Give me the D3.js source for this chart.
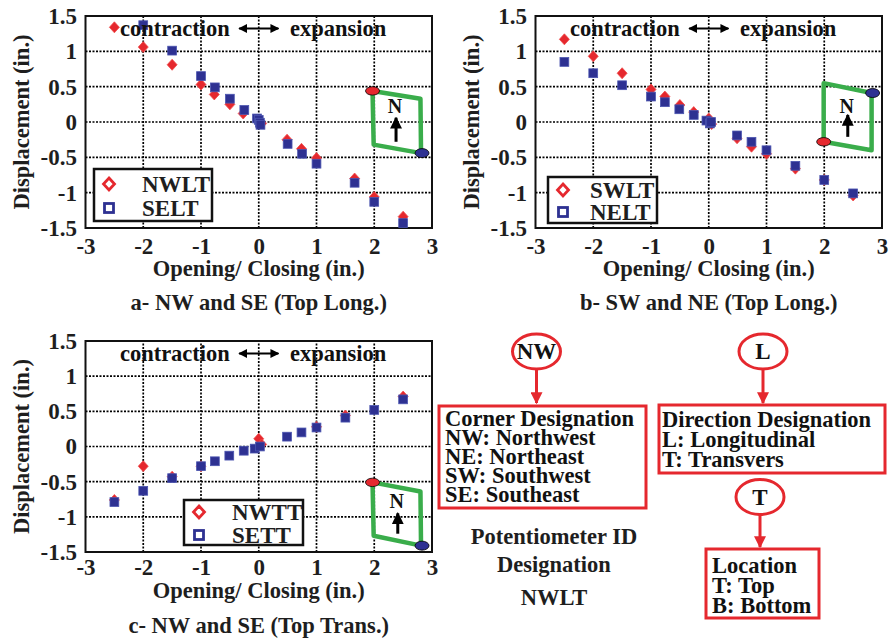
<!DOCTYPE html>
<html>
<head>
<meta charset="utf-8">
<script src="https://cdn.jsdelivr.net/npm/d3@7"></script>
<style>
  body { margin: 0; background: #fff; }
  svg { display: block; }
</style>
</head>
<body>
<div id="chart"></div>
<script>
// ---------------- data ----------------
var xTicks = [-3, -2, -1, 0, 1, 2, 3]
var yTicks = [-1.5, -1, -0.5, 0, 0.5, 1, 1.5]

// panel a
var nwlt = [[-2.5, 1.34], [-2, 1.06], [-1.5, 0.81], [-1, 0.53], [-0.77, 0.39], [-0.5, 0.25], [-0.27, 0.12],
            [0, 0.01], [0.05, -0.02], [0.49, -0.25], [0.74, -0.38], [1, -0.51], [1.66, -0.8], [2, -1.06], [2.5, -1.34]]
var selt = [[-2, 1.37], [-1.5, 1.01], [-1, 0.65], [-0.76, 0.49], [-0.5, 0.33], [-0.25, 0.17],
            [-0.03, 0.05], [0, 0.03], [0.02, -0.01], [0.03, -0.04], [0.5, -0.31], [0.75, -0.45], [1, -0.59], [1.66, -0.86], [2, -1.13], [2.5, -1.43]]
// panel b
var swlt = [[-2.5, 1.17], [-2, 0.93], [-1.5, 0.69], [-1, 0.46], [-0.76, 0.36], [-0.5, 0.24], [-0.26, 0.14],
            [0, 0.05], [0.05, -0.03], [0.49, -0.23], [0.74, -0.35], [1, -0.45], [1.5, -0.66], [2, -0.82], [2.5, -1.04]]
var nelt = [[-2.5, 0.85], [-2, 0.69], [-1.5, 0.52], [-1, 0.36], [-0.76, 0.28], [-0.51, 0.18], [-0.26, 0.1],
            [-0.04, 0.02], [0.02, -0.02], [0.04, 0.0], [0.49, -0.19], [0.74, -0.28], [1, -0.4], [1.5, -0.62], [2, -0.82], [2.5, -1.01]]
// panel c
var nwtt = [[-2.5, -0.76], [-2, -0.28], [-1.5, -0.43], [-1, -0.28], [0, 0.11], [0.05, 0.03], [1, 0.28], [1.5, 0.44], [2.5, 0.71]]
var sett = [[-2.5, -0.79], [-2, -0.63], [-1.5, -0.45], [-1, -0.28], [-0.76, -0.21], [-0.51, -0.13], [-0.26, -0.06],
            [-0.07, -0.03], [0.02, 0.0], [0.49, 0.14], [0.74, 0.2], [1, 0.27], [1.5, 0.41], [2, 0.52], [2.5, 0.67]]

var seriesNames = [['NWLT', 'SELT'], ['SWLT', 'NELT'], ['NWTT', 'SETT']]
var captions = ['a- NW and SE (Top Long.)', 'b- SW and NE (Top Long.)', 'c- NW and SE (Top Trans.)']

var cornerLines = ['Corner Designation', 'NW: Northwest', 'NE: Northeast', 'SW: Southwest', 'SE: Southeast']
var directionLines = ['Direction Designation', 'L: Longitudinal', 'T: Transvers']
var locationLines = ['Location', 'T: Top', 'B: Bottom']
var idLines = ['Potentiometer ID', 'Designation', 'NWLT']

// ---------------- drawing ----------------
var FONT = '"Liberation Serif", "Times New Roman", serif'
var RED = '#e5282e'
var BLUE = '#2e3192'
var GREEN = '#3aad4b'
var width = 894, height = 639

var svg = d3.select('#chart').append('svg')
    .attr('width', width)
    .attr('height', height)
    .style('font-family', FONT)
    .style('font-weight', 'bold')

// arrow heads
var defs = svg.append('defs')
defs.append('marker').attr('id', 'ahBlack').attr('viewBox', '0 0 10 10').attr('refX', 9).attr('refY', 5)
    .attr('markerWidth', 4).attr('markerHeight', 4).attr('orient', 'auto-start-reverse').attr('markerUnits', 'strokeWidth')
    .append('path').attr('d', 'M0,0L10,5L0,10z').attr('fill', '#000')
defs.append('marker').attr('id', 'ahRed').attr('viewBox', '0 0 10 10').attr('refX', 9).attr('refY', 5)
    .attr('markerWidth', 4.5).attr('markerHeight', 4).attr('orient', 'auto').attr('markerUnits', 'strokeWidth')
    .append('path').attr('d', 'M0,0L10,5L0,10z').attr('fill', RED)

var panels = [
    {x0: 85.5, x1: 432, y0: 228, y1: 16, tickPad: 9.5, xTitleY: 276, capY: 310, yTitleX: 29,
     red: nwlt, blue: selt, names: seriesNames[0], caption: captions[0],
     legend: {x: 94, y: 169, w: 118, h: 52, r1: 184, r2: 208, tx: 142},
     sketch: {pts: [[1.97, 0.44], [2.8, 0.33], [2.81, -0.44], [1.99, -0.32]], redAt: 0, blueAt: 2, n: [2.36, 0.13], arrow: [-0.28, 0.06]}},
    {x0: 535.5, x1: 882, y0: 228, y1: 16, tickPad: 9.5, xTitleY: 276, capY: 310, yTitleX: 479,
     red: swlt, blue: nelt, names: seriesNames[1], caption: captions[1],
     legend: {x: 548, y: 177, w: 109, h: 46, r1: 190, r2: 212, tx: 590},
     sketch: {pts: [[1.99, 0.55], [2.82, 0.41], [2.82, -0.4], [1.99, -0.28]], redAt: 3, blueAt: 1, n: [2.39, 0.13], arrow: [-0.21, 0.1]}},
    {x0: 85.5, x1: 432, y0: 552, y1: 341, tickPad: 6.5, xTitleY: 598, capY: 633, yTitleX: 29,
     red: nwtt, blue: sett, names: seriesNames[2], caption: captions[2],
     legend: {x: 184, y: 500, w: 119, h: 45, r1: 512, r2: 535, tx: 232},
     sketch: {pts: [[1.97, -0.51], [2.8, -0.64], [2.81, -1.41], [1.99, -1.27]], redAt: 0, blueAt: 2, n: [2.39, -0.88], arrow: [-1.24, -0.95]}}
]

panels.forEach(function(p) {
    var x = d3.scaleLinear().domain([-3, 3]).range([p.x0, p.x1])
    var y = d3.scaleLinear().domain([-1.5, 1.5]).range([p.y0, p.y1])
    var g = svg.append('g')

    // dotted grid
    g.selectAll('.gx').data(xTicks.slice(1, -1)).join('line')
        .attr('x1', d => x(d)).attr('x2', d => x(d)).attr('y1', p.y0).attr('y2', p.y1)
        .attr('stroke', '#000').attr('stroke-width', 1.7).attr('stroke-dasharray', '2,1.5')
    g.selectAll('.gy').data(yTicks.slice(1, -1)).join('line')
        .attr('y1', d => y(d)).attr('y2', d => y(d)).attr('x1', p.x0).attr('x2', p.x1)
        .attr('stroke', '#000').attr('stroke-width', 1.7).attr('stroke-dasharray', '2,1.5')

    // axes
    var xAxis = g.append('g').attr('transform', 'translate(0,' + p.y0 + ')')
        .call(d3.axisBottom(x).tickValues(xTicks).tickSize(0).tickPadding(p.tickPad).tickFormat(d => String(d)))
    var yAxis = g.append('g').attr('transform', 'translate(' + p.x0 + ',0)')
        .call(d3.axisLeft(y).tickValues(yTicks).tickSize(0).tickPadding(8.5).tickFormat(d => String(d)))
    ;[xAxis, yAxis].forEach(function(a) {
        a.select('.domain').remove()
        a.selectAll('text').style('font-family', FONT).style('font-weight', 'bold')
            .style('font-size', '23px').attr('fill', '#1e1e1e')
    })

    // frame
    g.append('rect').attr('x', p.x0).attr('y', p.y1).attr('width', p.x1 - p.x0).attr('height', p.y0 - p.y1)
        .attr('fill', 'none').attr('stroke', '#111').attr('stroke-width', 2)

    // titles
    g.append('text').attr('x', (p.x0 + p.x1) / 2).attr('y', p.xTitleY).attr('text-anchor', 'middle')
        .style('font-size', '22.5px').attr('fill', '#1e1e1e').text('Opening/ Closing (in.)')
    g.append('text').attr('transform', 'translate(' + p.yTitleX + ',' + ((p.y0 + p.y1) / 2) + ') rotate(-90)')
        .attr('text-anchor', 'middle').style('font-size', '22.5px').attr('fill', '#1e1e1e').text('Displacement (in.)')
    g.append('text').attr('x', (p.x0 + p.x1) / 2).attr('y', p.capY).attr('text-anchor', 'middle')
        .style('font-size', '22.5px').attr('fill', '#1e1e1e').text(p.caption)

    // points
    g.selectAll('.red').data(p.red).join('path')
        .attr('transform', d => 'translate(' + x(d[0]) + ',' + y(d[1]) + ')')
        .attr('d', 'M0,-5.5L5,0L0,5.5L-5,0Z')
        .attr('fill', RED).attr('stroke', '#f04a4a').attr('stroke-width', 0.8)
    g.selectAll('.blue').data(p.blue).join('rect')
        .attr('x', d => x(d[0]) - 4.4).attr('y', d => y(d[1]) - 4.4)
        .attr('width', 8.8).attr('height', 8.8)
        .attr('fill', BLUE).attr('stroke', '#4b55b0').attr('stroke-width', 0.8)

    // contraction <-> expansion
    var ty = y(1.5) + 19.5
    g.append('text').attr('x', x(-0.5)).attr('y', ty).attr('text-anchor', 'end')
        .style('font-size', '22.5px').attr('fill', '#111').text('contraction')
    g.append('text').attr('x', x(0.54)).attr('y', ty).attr('text-anchor', 'start')
        .style('font-size', '22.5px').attr('fill', '#111').text('expansion')
    g.append('line').attr('x1', x(-0.34)).attr('x2', x(0.34)).attr('y1', ty - 7).attr('y2', ty - 7)
        .attr('stroke', '#000').attr('stroke-width', 2.2)
        .attr('marker-start', 'url(#ahBlack)').attr('marker-end', 'url(#ahBlack)')

    // bridge sketch
    var s = p.sketch
    g.append('path').attr('d', 'M' + s.pts.map(d => x(d[0]) + ',' + y(d[1])).join('L') + 'Z')
        .attr('fill', 'none').attr('stroke', GREEN).attr('stroke-width', 4.5).attr('stroke-linejoin', 'round')
    g.append('ellipse').attr('cx', x(s.pts[s.redAt][0])).attr('cy', y(s.pts[s.redAt][1]))
        .attr('rx', 7).attr('ry', 4.2).attr('fill', RED).attr('stroke', '#000').attr('stroke-width', 0.8)
    g.append('ellipse').attr('cx', x(s.pts[s.blueAt][0]) + 1).attr('cy', y(s.pts[s.blueAt][1]))
        .attr('rx', 7).attr('ry', 4.5).attr('fill', BLUE).attr('stroke', '#000').attr('stroke-width', 0.8)
    g.append('text').attr('x', x(s.n[0])).attr('y', y(s.n[1])).attr('text-anchor', 'middle')
        .style('font-size', '20px').attr('fill', '#111').text('N')
    g.append('line').attr('x1', x(s.n[0]) + 1).attr('x2', x(s.n[0]) + 1)
        .attr('y1', y(s.arrow[0])).attr('y2', y(s.arrow[1]))
        .attr('stroke', '#000').attr('stroke-width', 3).attr('marker-end', 'url(#ahBlack)')

    // legend
    var L = p.legend
    g.append('rect').attr('x', L.x).attr('y', L.y).attr('width', L.w).attr('height', L.h)
        .attr('fill', '#fff').attr('stroke', '#111').attr('stroke-width', 2.5)
    g.append('path').attr('transform', 'translate(' + (L.x + 15) + ',' + L.r1 + ')')
        .attr('d', 'M0,-6L5.5,0L0,6L-5.5,0Z').attr('fill', 'none').attr('stroke', RED).attr('stroke-width', 2.8)
    g.append('rect').attr('x', L.x + 15 - 4.5).attr('y', L.r2 - 4.5).attr('width', 9).attr('height', 9)
        .attr('fill', 'none').attr('stroke', BLUE).attr('stroke-width', 2.8)
    g.append('text').attr('x', L.tx).attr('y', L.r1 + 8).style('font-size', '23px').attr('fill', '#1e1e1e').text(p.names[0])
    g.append('text').attr('x', L.tx).attr('y', L.r2 + 8).style('font-size', '23px').attr('fill', '#1e1e1e').text(p.names[1])
})

// ---------------- designation diagram ----------------
var dg = svg.append('g').style('font-size', '22.5px').attr('fill', '#111')

function bubble(cx, cy, label) {
    dg.append('ellipse').attr('cx', cx).attr('cy', cy).attr('rx', 24).attr('ry', 17.5)
        .attr('fill', '#fff').attr('stroke', RED).attr('stroke-width', 3)
    dg.append('text').attr('x', cx).attr('y', cy + 7.5).attr('text-anchor', 'middle')
        .style('font-size', '23px').text(label)
}
function redArrow(x0, y0, y1) {
    dg.append('line').attr('x1', x0).attr('x2', x0).attr('y1', y0).attr('y2', y1 - 2)
        .attr('stroke', RED).attr('stroke-width', 3).attr('marker-end', 'url(#ahRed)')
}
function box(x0, y0, w, h, lines, tx, firstBase, step) {
    dg.append('rect').attr('x', x0).attr('y', y0).attr('width', w).attr('height', h)
        .attr('fill', 'none').attr('stroke', RED).attr('stroke-width', 3)
    dg.selectAll(null).data(lines).join('text')
        .attr('x', tx).attr('y', (d, i) => firstBase + i * step).text(d => d)
}

bubble(536.5, 351.5, 'NW')
redArrow(536.5, 369, 405)
box(439, 406, 207, 102, cornerLines, 445, 426, 19)

bubble(763, 351.5, 'L')
redArrow(763, 369, 405)
box(659, 405, 226, 68, directionLines, 662, 427, 20)

bubble(760, 497, 'T')
redArrow(760, 514.5, 549)
box(706, 549, 113, 69, locationLines, 712, 573, 20)

dg.selectAll('.idt').data(idLines).join('text')
    .attr('x', 554).attr('y', (d, i) => [544, 572, 605][i]).attr('text-anchor', 'middle')
    .style('font-size', '22.5px').attr('fill', '#1e1e1e').text(d => d)
</script>
</body>
</html>
